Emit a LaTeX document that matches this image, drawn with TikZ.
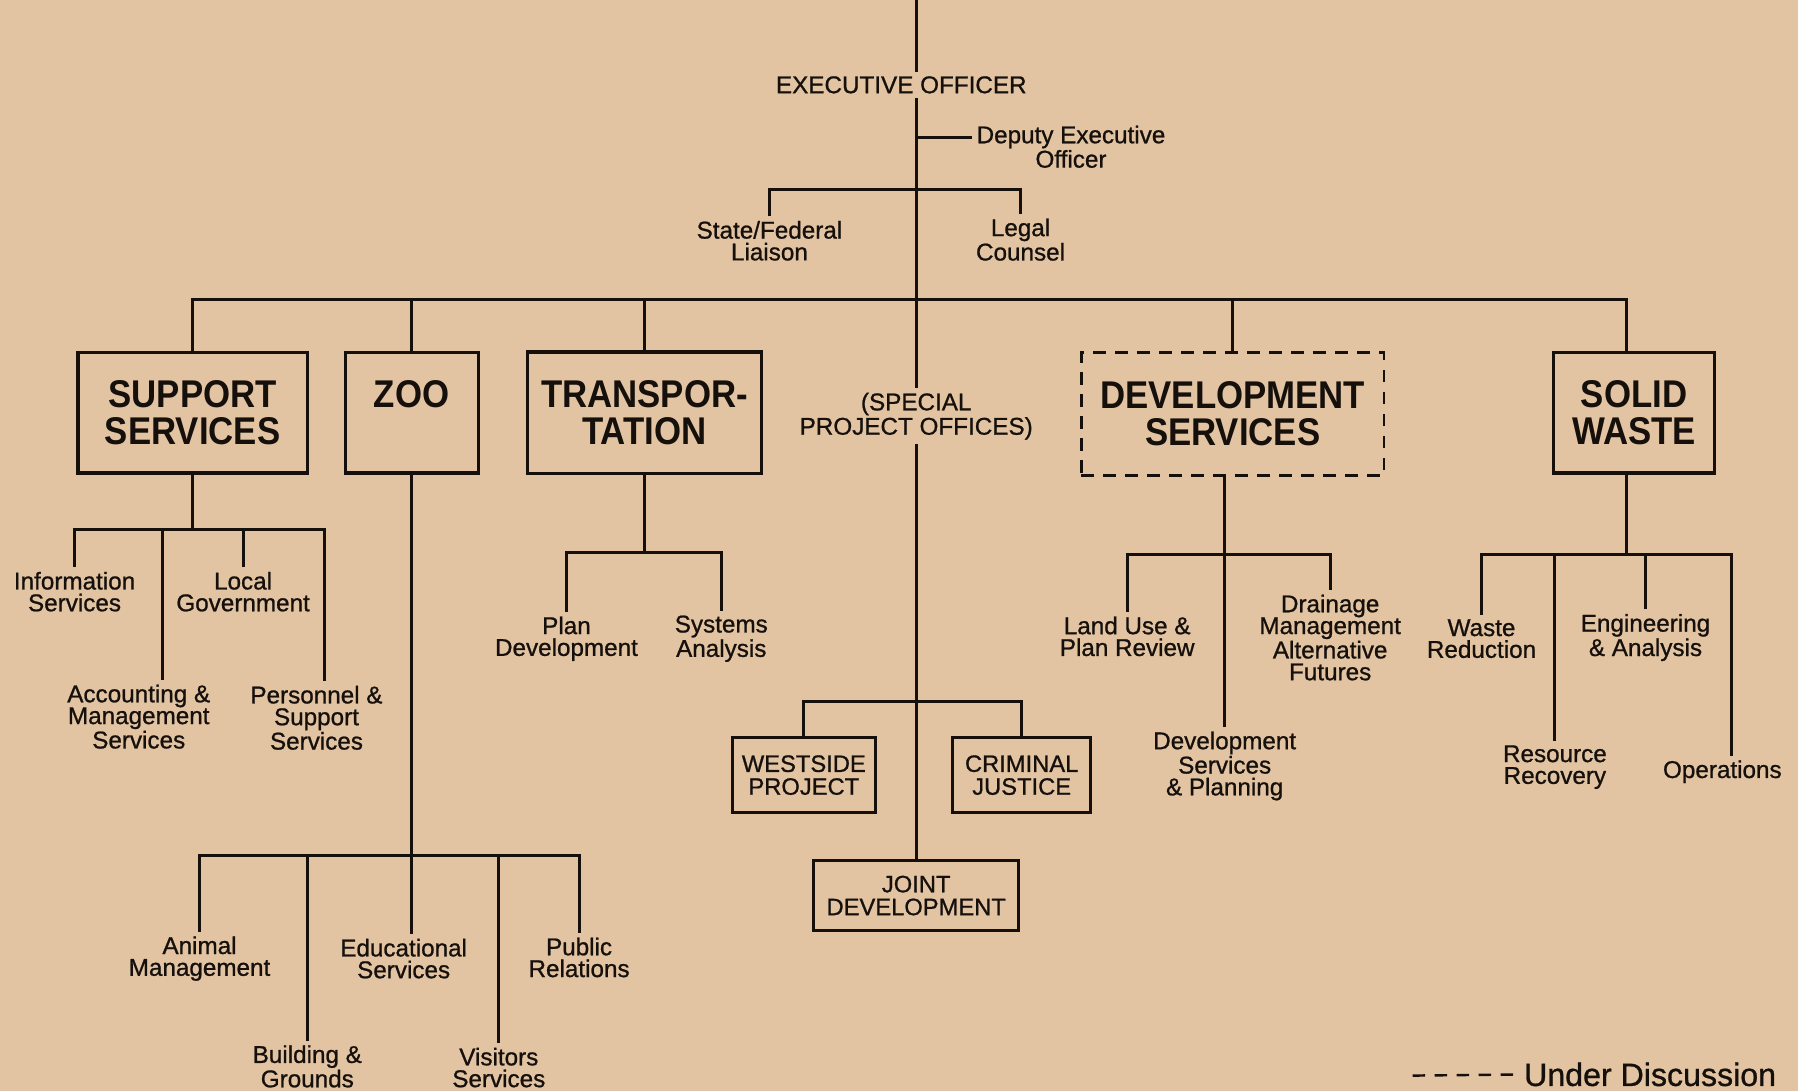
\documentclass[tikz,border=0pt]{standalone}
\usepackage{fontspec}
\setmainfont{Liberation Sans}[FakeBold=0.9]
\newfontfamily\boxfont{Liberation Sans Bold}[FakeStretch=0.9]
\usetikzlibrary{positioning}
\definecolor{paper}{RGB}{226,196,162}
\definecolor{ink}{RGB}{22,16,12}
\tikzstyle{line} = [draw=ink, line width=1.7pt]
\tikzstyle{lbl} = [text=ink, align=center, inner sep=2.5pt, font=\fontsize{13.8}{12.4}\selectfont]
\tikzstyle{dept} = [rectangle, draw=ink, line width=1.8pt, text=ink, align=center, font=\boxfont\fontsize{22}{21}\selectfont]
\tikzstyle{office} = [rectangle, draw=ink, line width=1.8pt, text=ink, align=center, font=\fontsize{13.5}{13}\selectfont]
\tikzstyle{future} = [dash pattern=on 0.25cm off 0.19cm]

\begin{document}
\begin{tikzpicture}[x=0.022934cm, y=-0.022934cm]
        \fill[paper] (0,0) rectangle (1568,951);
        \useasboundingbox (0,0) rectangle (1568,951);

        \node (exec) [lbl] at (786,74) {EXECUTIVE OFFICER};
        \node (dep) [lbl] at (934,128) {Deputy Executive\\Officer};
        \node (sf) [lbl] at (671,210) {State/Federal\\Liaison};
        \node (lc) [lbl] at (890,209) {Legal\\Counsel};

        \node (ss) [dept, minimum width=4.587cm, minimum height=2.408cm] at (168,360) {SUPPORT\\SERVICES};
        \node (zoo) [dept, minimum width=2.660cm, minimum height=2.408cm] at (359,360) {ZOO\\\phantom{Z}};
        \node (tr) [dept, minimum width=4.679cm, minimum height=2.431cm] at (562,360) {TRANSPOR-\\TATION};
        \node (spo) [lbl] at (799,363) {(SPECIAL\\PROJECT OFFICES)};
        \node (dev) [dept, future, line width=1.6pt, minimum width=6.055cm, minimum height=2.454cm] at (1075,361) {DEVELOPMENT\\SERVICES};
        \node (sw) [dept, minimum width=3.211cm, minimum height=2.408cm] at (1425,360) {SOLID\\WASTE};

        \node (info) [lbl] at (65,516) {Information\\Services};
        \node (acct) [lbl] at (121,625) {Accounting \&\\Management\\Services};
        \node (local) [lbl] at (212,516) {Local\\Government};
        \node (pers) [lbl] at (276,626) {Personnel \&\\Support\\Services};

        \node (am) [lbl] at (174,836) {Animal\\Management};
        \node (bg) [lbl] at (268,930) {Building \&\\Grounds};
        \node (es) [lbl] at (352,836) {Educational\\Services};
        \node (vs) [lbl] at (435,931) {Visitors\\Services};
        \node (pr) [lbl] at (505,835) {Public\\Relations};

        \node (pd) [lbl] at (494,557) {Plan\\Development};
        \node (sa) [lbl] at (629,557) {Systems\\Analysis};

        \node (wp) [office, minimum width=2.867cm, minimum height=1.491cm] at (701,676) {WESTSIDE\\PROJECT};
        \node (cj) [office, minimum width=2.752cm, minimum height=1.491cm] at (891,676) {CRIMINAL\\JUSTICE};
        \node (jd) [office, minimum width=4.105cm, minimum height=1.399cm] at (799,781) {JOINT\\DEVELOPMENT};

        \node (lu) [lbl] at (983,555) {Land Use \&\\Plan Review};
        \node (dsp) [lbl] at (1068,668) {Development\\Services\\\& Planning};
        \node (dm) [lbl] at (1160,556) {Drainage\\Management\\Alternative\\Futures};

        \node (wr) [lbl] at (1292,557) {Waste\\Reduction};
        \node (rr) [lbl] at (1356,669) {Resource\\Recovery};
        \node (ea) [lbl] at (1435,556) {Engineering\\\& Analysis};
        \node (op) [lbl] at (1502,673) {Operations};

        \node (key) [lbl, anchor=west, font=\fontsize{18.3}{18}\selectfont] at (1325,937) {Under Discussion};

        \coordinate (top) at (799,0);
        \coordinate (dj) at (799,120);
        \coordinate (lj) at (799,165);
        \coordinate (mb) at (799,261);
        \coordinate (sj) at (168,462);
        \coordinate (zj) at (359,746);
        \coordinate (tj) at (562,482);
        \coordinate (pj) at (799,612);
        \coordinate (vj) at (1068,484);
        \coordinate (wj) at (1418,484);
        \coordinate (ks) at (1232,938);

        \draw[line] (top) -- (top |- exec.north);
        \draw[line] (top |- exec.south) -- (spo.north);
        \draw[line] (spo.south) -- (jd.north);
        \draw[line] (dj) -- (dj -| dep.west);
        \draw[line] (sf.north) |- (lj) -| (lc.north);

        \draw[line] (ss.north) |- (mb) -| ([xshift=-0.16cm]sw.north);
        \draw[line] (zoo.north) -- (zoo.north |- mb);
        \draw[line] (tr.north) -- (tr.north |- mb);
        \draw[line] (dev.north) -- (dev.north |- mb);

        \draw[line] (ss.south) -- (sj);
        \draw[line] (info.north) |- (sj) -| ([xshift=0.16cm]pers.north);
        \draw[line] ([xshift=0.48cm]acct.north) -- ([xshift=0.48cm]acct.north |- sj);
        \draw[line] (local.north) -- (local.north |- sj);

        \draw[line] (zoo.south) -- (zoo.south |- es.north);
        \draw[line] (am.north) |- (zj) -| (pr.north);
        \draw[line] (bg.north) -- (bg.north |- zj);
        \draw[line] (vs.north) -- (vs.north |- zj);

        \draw[line] (tr.south) -- (tj);
        \draw[line] (pd.north) |- (tj) -| (sa.north);

        \draw[line] (wp.north) |- (pj) -| (cj.north);

        \draw[line] (dsp.north |- dev.south) -- (dsp.north);
        \draw[line] (lu.north) |- (vj) -| (dm.north);

        \draw[line] (wj |- sw.south) -- (wj);
        \draw[line] (wr.north) |- (wj) -| ([xshift=0.18cm]op.north);
        \draw[line] (rr.north) -- (rr.north |- wj);
        \draw[line] (ea.north) -- (ea.north |- wj);

        \draw[line, future, line width=1.4pt] (ks) -- (key.west);

    \end{tikzpicture}
\end{document}
